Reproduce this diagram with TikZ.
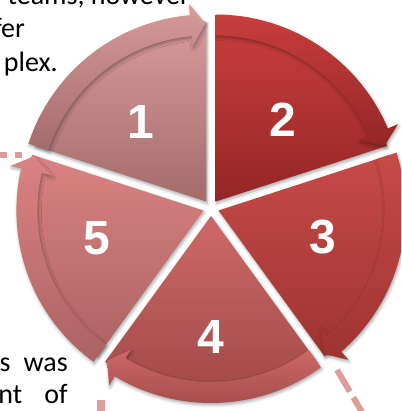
\documentclass[tikz,border=0pt]{standalone}
\usepackage{fontspec}
\setmainfont{Carlito}
\newfontfamily\numfont{Liberation Sans}
\usetikzlibrary{calc,shadows.blur}
\definecolor{c1t}{HTML}{D89A9A}\definecolor{c1b}{HTML}{A46B6B}
\definecolor{c2t}{HTML}{C73E3D}\definecolor{c2b}{HTML}{952626}
\definecolor{c3t}{HTML}{C64B49}\definecolor{c3b}{HTML}{9E3331}
\definecolor{c4t}{HTML}{CE6868}\definecolor{c4b}{HTML}{9E4747}
\definecolor{c5t}{HTML}{DA8382}\definecolor{c5b}{HTML}{AC6262}
\definecolor{dashcol}{HTML}{E09B9B}
\tikzset{
  segshadow/.style={blur shadow={shadow xshift=1pt,shadow yshift=-2pt,shadow blur radius=3pt,shadow opacity=35}},
  numlabel/.style={font=\numfont\bfseries\fontsize{48}{48}\selectfont,text=white,inner sep=0pt},
  bodytext/.style={font=\fontsize{28}{34}\selectfont,inner sep=0pt,text=black},
  dashline/.style={draw=dashcol,line width=6pt}
}
\newcommand\cyseg[5]{%
  \pgfmathsetmacro\segmidang{(#2+#3)/2}
  \coordinate (#1) at ($(C)+(\segmidang:8)$);
  \path[segshadow,top color=#4,bottom color=#5]
    (#1) -- ($(#1)+(#2:180)$) arc[start angle=#2,end angle=#3,radius=180] -- cycle;
  \path[segshadow,top color=#4,bottom color=#5]
    ($(#1)+(#2:187)$) arc[start angle=#2,end angle={#3+5},radius=187]
    -- ($(#1)+({#3+5}:198)$) -- ($(#1)+({#3+0.3}:178)$) -- ($(#1)+({#3+5}:156)$)
    -- ($(#1)+({#3+5}:166)$) arc[start angle={#3+5},end angle=#2,radius=166] -- cycle;
}
\begin{document}
\begin{tikzpicture}[x=1pt,y=1pt]
\useasboundingbox (0,0) rectangle (401,411);
\clip (0,0) rectangle (401,411);
\coordinate (C) at (211,203);
% dashed connectors
\coordinate (dl1) at (0,256);\coordinate (dl2) at (22,256);
\draw[dashline,dash pattern=on 7pt off 8pt] (dl1) -- (dl2);
\coordinate (db1) at (101,11);\coordinate (db2) at (101,-2);
\draw[dashline,line width=8pt] (db1) -- (db2);
\coordinate (dr1) at (337,41);\coordinate (dr2) at (362,-1);
\draw[dashline,dash pattern=on 25pt off 7pt] (dr1) -- (dr2);
% segments
\cyseg{s1}{162}{90}{c1t}{c1b}
\cyseg{s2}{90}{18}{c2t}{c2b}
\cyseg{s3}{18}{-54}{c3t}{c3b}
\cyseg{s4}{-54}{-126}{c4t}{c4b}
\cyseg{s5}{-126}{-198}{c5t}{c5b}
% labels
\node[numlabel] (l1) at (141,289) {1};
\node[numlabel] (l2) at (283,291) {2};
\node[numlabel] (l3) at (323,174) {3};
\node[numlabel] (l4) at (211,74) {4};
\node[numlabel] (l5) at (97,173) {5};
% text fragments
\node[bodytext,anchor=base east] (t1) at (190,406) {teams, however};
\node[bodytext,anchor=base east] (t2) at (25,373) {fer};
\node[bodytext,anchor=base east] (t3) at (58,339) {plex.};
\node[bodytext,anchor=base west] (t4) at (-0.5,39) {s};
\node[bodytext,anchor=base east] (t5) at (68,39) {was};
\node[bodytext,anchor=base east] (t6) at (22.5,7) {nt};
\node[bodytext,anchor=base east] (t7) at (68,7) {of};
\end{tikzpicture}
\end{document}
